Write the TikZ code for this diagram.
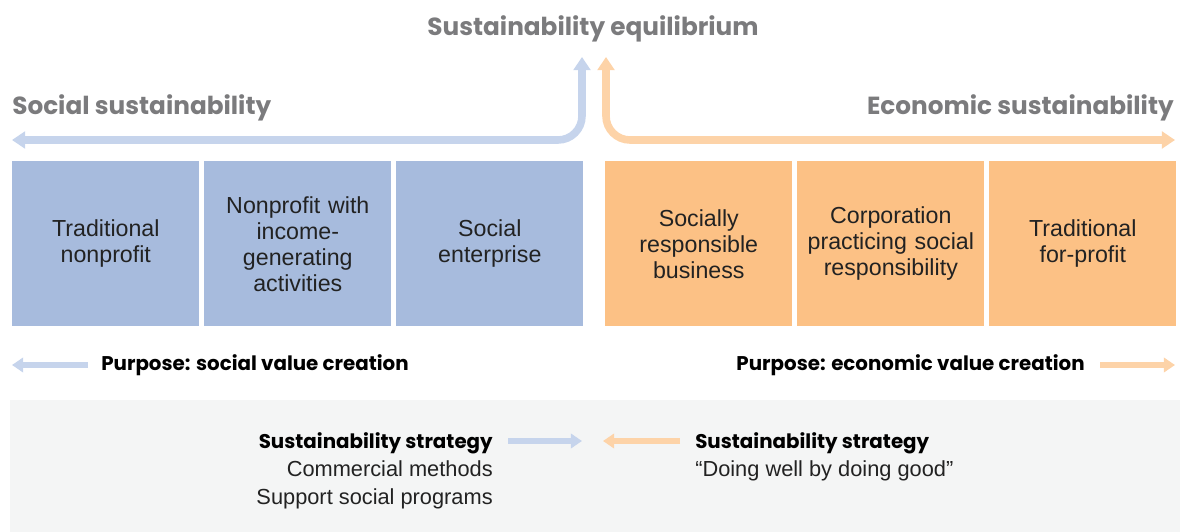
\documentclass[tikz,border=0pt]{standalone}
\usepackage{fontspec}
\setmainfont{Liberation Sans}
\newfontfamily\headfont{Poppins}
\usepackage{xcolor}
\usetikzlibrary{arrows.meta, positioning}

\definecolor{boxblue}{HTML}{A7BBDD}
\definecolor{boxorange}{HTML}{FCC185}
\definecolor{arrowblue}{HTML}{C6D4EC}
\definecolor{arroworange}{HTML}{FDD3A8}
\definecolor{headgray}{HTML}{7B7B7D}
\definecolor{backgray}{HTML}{F4F5F5}
\definecolor{textdark}{HTML}{222222}

\begin{document}
\begin{tikzpicture}[x=0.025cm, y=-0.025cm,
    orgbox/.style={rectangle, minimum width=4.675cm, minimum height=4.125cm, inner sep=0pt, text width=4.4cm, align=center, font=\fontsize{16.5}{18.5}\selectfont, text=textdark},
    socbox/.style={orgbox, fill=boxblue},
    ecobox/.style={orgbox, fill=boxorange},
    heading/.style={font=\headfont\bfseries\fontsize{17.6}{20}\selectfont, text=headgray, inner sep=0pt},
    purpose/.style={font=\headfont\bfseries\fontsize{14.1}{17}\selectfont, text=black, inner sep=0pt},
    plain/.style={font=\fontsize{15.5}{20}\selectfont, text=textdark, inner sep=0pt},
    bigarrow/.style={line width=0.19cm, {Triangle[width=0.42cm,length=0.33cm]}-{Triangle[width=0.42cm,length=0.33cm]}, rounded corners=0.6cm},
    smallarrow/.style={line width=0.15cm, -{Triangle[width=0.36cm,length=0.28cm]}}]

    \useasboundingbox (0,0) rectangle (1180,532);
    \fill[backgray] (10,400) rectangle (1180,532);

    % headings
    \node[heading, anchor=base] (title) at (593,36) {Sustainability equilibrium};
    \node[heading, anchor=base west] (social) at (12,115) {Social sustainability};
    \node[heading, anchor=base east] (economic) at (1174,115) {Economic sustainability};

    % organisation types
    \node[socbox, anchor=north west] (tradnp) at (12,161) {Traditional\\nonprofit};
    \node[socbox, right=0.11cm of tradnp] (npincome) {Nonprofit with\\income-\\generating\\activities};
    \node[socbox, right=0.11cm of npincome] (socent) {Social\\enterprise};
    \node[ecobox, anchor=north west] (srbiz) at (605,161) {Socially\\responsible\\business};
    \node[ecobox, right=0.11cm of srbiz] (corpsr) {Corporation\\practicing social\\responsibility};
    \node[ecobox, right=0.11cm of corpsr] (tradfp) {Traditional\\for-profit};

    % equilibrium arrows
    \coordinate (socend) at (12,140);
    \coordinate (ecoend) at (1175,140);
    \coordinate (eqleft) at (582,57);
    \coordinate (eqright) at (606,57);
    \draw[bigarrow, arrowblue] (socend) -| (eqleft);
    \draw[bigarrow, arroworange] (ecoend) -| (eqright);

    % purposes
    \node[purpose, anchor=base west] (socpurpose) at (101,370) {Purpose: social value creation};
    \node[purpose, anchor=base east] (ecopurpose) at (1085,370) {Purpose: economic value creation};
    \coordinate (socptail) at (88,365);
    \coordinate (socptip) at (12,365);
    \coordinate (ecoptail) at (1100,365);
    \coordinate (ecoptip) at (1175,365);
    \draw[smallarrow, arrowblue] (socptail) -- (socptip);
    \draw[smallarrow, arroworange] (ecoptail) -- (ecoptip);

    % strategies
    \node[purpose, anchor=base east] (socstrat) at (493,448) {Sustainability strategy};
    \node[plain, anchor=base east] (commercial) at (493,476) {Commercial methods};
    \node[plain, anchor=base east] (support) at (493,504) {Support social programs};
    \node[purpose, anchor=base west] (ecostrat) at (695,448) {Sustainability strategy};
    \node[plain, anchor=base west] (doingwell) at (695,476) {“Doing well by doing good”};
    \coordinate (socstail) at (508,441);
    \coordinate (socstip) at (582,441);
    \coordinate (ecostail) at (680,441);
    \coordinate (ecostip) at (603,441);
    \draw[smallarrow, arrowblue] (socstail) -- (socstip);
    \draw[smallarrow, arroworange] (ecostail) -- (ecostip);

\end{tikzpicture}
\end{document}
